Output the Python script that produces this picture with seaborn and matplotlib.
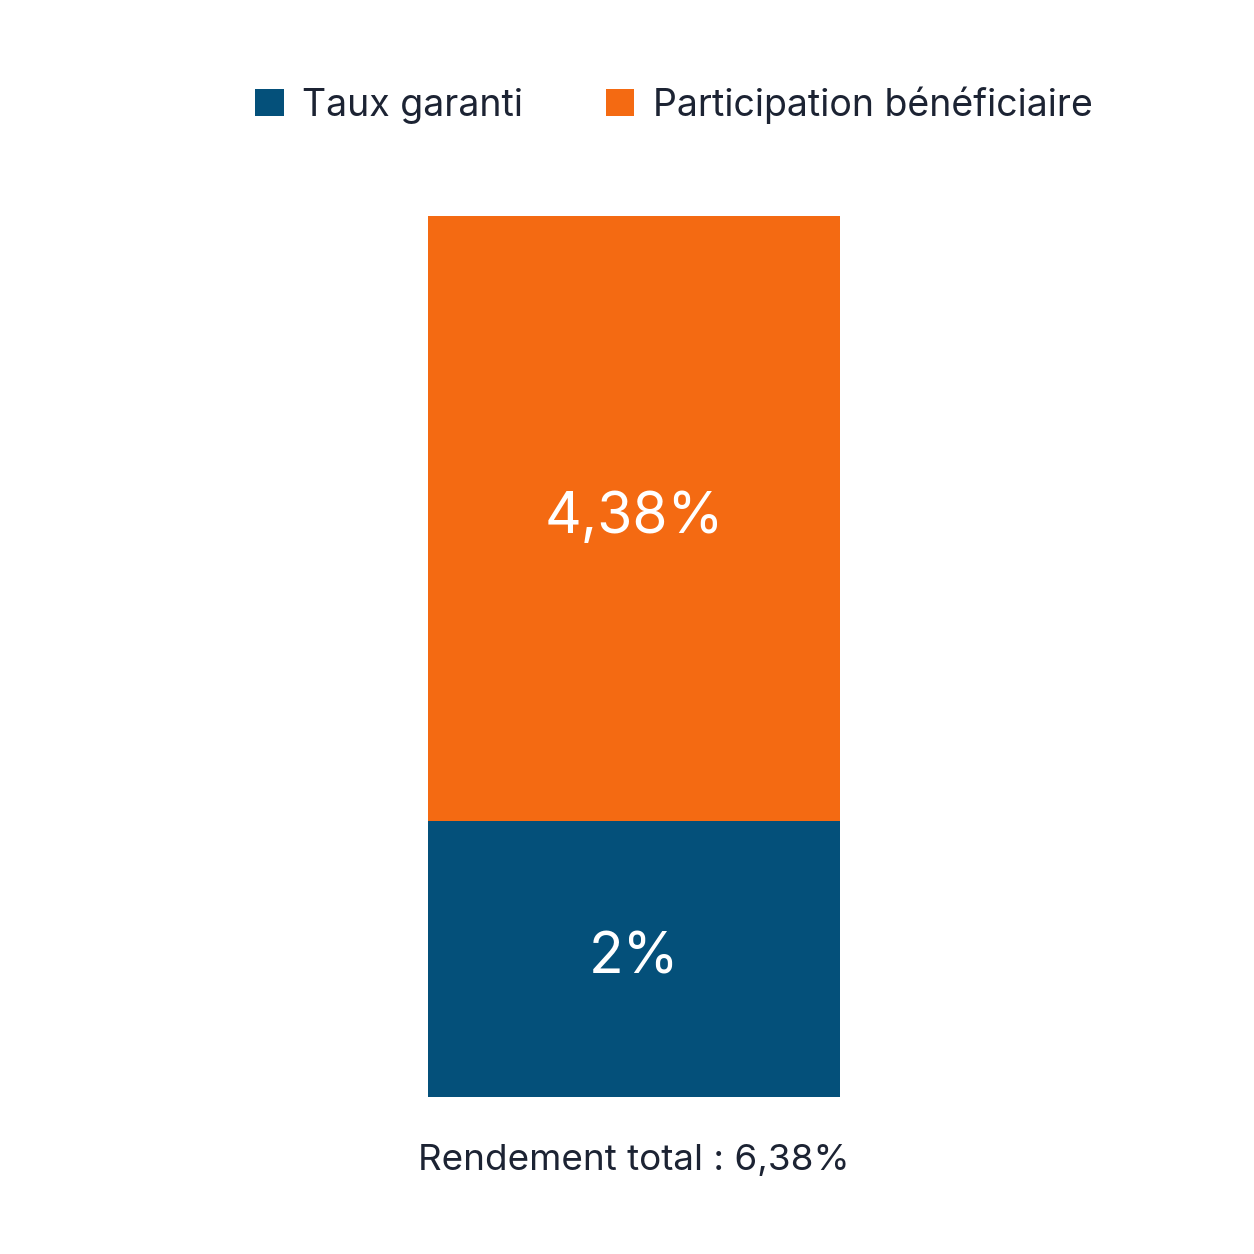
import matplotlib
matplotlib.use("Agg")
import matplotlib.pyplot as plt
import seaborn as sns

# data
segments = ["Taux garanti", "Participation bénéficiaire"]
values = [2.0, 4.38]
value_labels = ["2%", "4,38%"]
total_label = "Rendement total : 6,38%"

blue = "#04507A"
orange = "#F46A12"
text_dark = "#1C2333"

sns.set_theme(style="white")
plt.rcParams["font.family"] = ["Inter", "DejaVu Sans"]

fig = plt.figure(figsize=(12.54, 12.54), dpi=100)
fig.patch.set_facecolor("white")
# axes spans the bar exactly
ax = fig.add_axes([428 / 1254, 1 - 1097 / 1254, 412 / 1254, 881 / 1254])

cat = ["Rendement"]
total = sum(values)
# stacked: draw the total in orange, then the guaranteed part on top
sns.barplot(x=cat, y=[total], color=orange, width=1.0, saturation=1,
            label=segments[1], linewidth=0, ax=ax)
sns.barplot(x=cat, y=[values[0]], color=blue, width=1.0, saturation=1,
            label=segments[0], linewidth=0, ax=ax)
if ax.get_legend() is not None:
    ax.get_legend().remove()

ax.set_xlim(-0.5, 0.5)
ax.set_ylim(0, total)
ax.axis("off")

# value labels in the middle of each segment
bottom = 0
for v, lab in zip(values, value_labels):
    ax.text(0, bottom + v / 2, lab, ha="center", va="center",
            color="white", fontsize=41)
    bottom += v

fig.text(634 / 1254, 1 - 1160 / 1254, total_label, ha="center", va="center",
         color=text_dark, fontsize=26.5)

handles, labels = ax.get_legend_handles_labels()
order = [labels.index(s) for s in segments]
leg = fig.legend([handles[i] for i in order], [labels[i] for i in order],
                 loc="center", bbox_to_anchor=(674 / 1254, 1 - 105 / 1254),
                 ncol=2, frameon=False, fontsize=27,
                 handlelength=0.75, handleheight=0.75,
                 handletextpad=0.5, columnspacing=2.2)
for t in leg.get_texts():
    t.set_color(text_dark)

fig.savefig("out.png", dpi=100, facecolor="white")
